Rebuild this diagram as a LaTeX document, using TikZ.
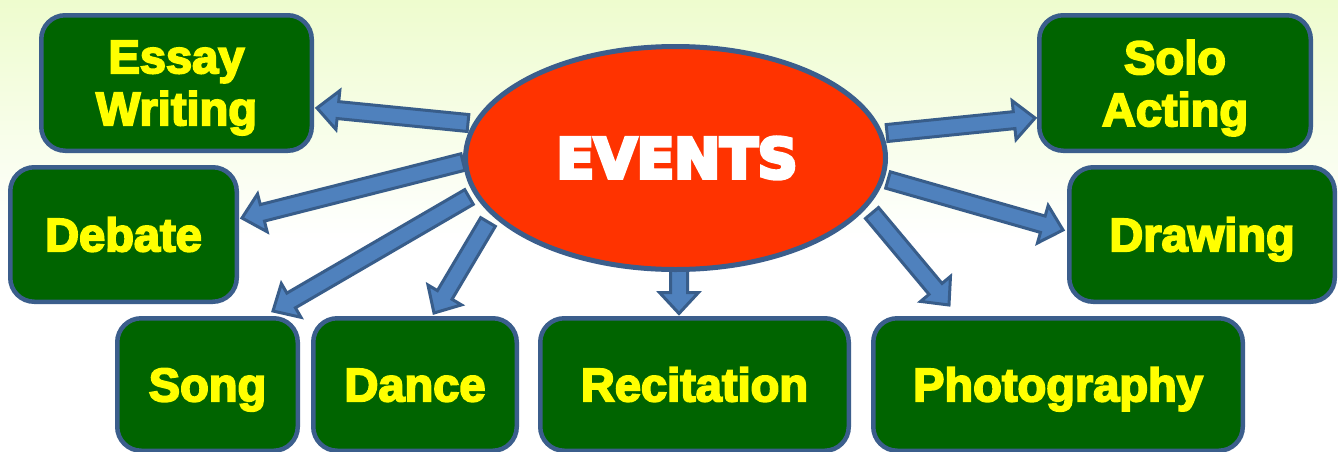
\documentclass[tikz,border=0pt]{standalone}
\usepackage{fontspec}
\setmainfont{Liberation Sans}[BoldFeatures={FakeBold=4}]
\newfontfamily\evfont{DejaVu Sans}[BoldFeatures={FakeBold=7}]
\usetikzlibrary{shapes.geometric,calc}
\definecolor{bgtop}{RGB}{238,252,206}
\definecolor{boxgreen}{RGB}{0,100,0}
\definecolor{edgeblue}{RGB}{59,94,140}
\definecolor{arrblue}{RGB}{79,129,189}
\definecolor{arredge}{RGB}{56,93,138}
\definecolor{evred}{RGB}{255,51,0}
\definecolor{lblyellow}{RGB}{255,255,0}
\pgfdeclarelayer{bg}
\pgfdeclarelayer{arr}
\pgfsetlayers{bg,arr,main}
\tikzset{
  evbox/.style={draw=edgeblue, line width=4.5pt, fill=boxgreen, rounded corners=24pt,
    inner sep=0pt, text=lblyellow, font=\bfseries\fontsize{47}{52}\selectfont, align=center},
  oneline/.style={text height=33.5pt, text depth=0pt},
  twoline/.style={text depth=0pt},
  blockarrow/.style={draw=arredge, fill=arrblue, line width=3pt, line join=miter},
  centre/.style={ellipse, draw=edgeblue, line width=5pt, fill=evred, minimum width=420pt,
    minimum height=223pt, inner sep=0pt, text=white,
    font=\evfont\bfseries\fontsize{55}{60}\selectfont, text height=40pt, text depth=0pt}
}
% block arrow from tail coordinate #1 to tip coordinate #2
\newcommand\barrow[2]{%
  \coordinate (bh) at ($(#2)!21pt!(#1)$);
  \draw[blockarrow] ($(#1)!8.5pt!90:(#2)$) -- ($(bh)!8.5pt!90:(#2)$) -- ($(bh)!19.5pt!90:(#2)$)
    -- (#2) -- ($(bh)!19.5pt!-90:(#2)$) -- ($(bh)!8.5pt!-90:(#2)$) -- ($(#1)!8.5pt!-90:(#2)$) -- cycle;
}
\begin{document}
\begin{tikzpicture}[x=1pt,y=1pt]
\useasboundingbox (0,0) rectangle (1338,-451);
\begin{pgfonlayer}{bg}
  \fill[white] (0,0) rectangle (1338,-451);
  \shade[top color=bgtop, bottom color=white] (0,0) rectangle (1338,-240);
\end{pgfonlayer}

% boxes
\node[evbox, twoline, minimum width=270.5pt, minimum height=135.5pt] (essay) at (176.5,-83) {Essay\\Writing};
\node[evbox, oneline, minimum width=226.5pt, minimum height=134.5pt] (debate) at (123.5,-234.5) {Debate};
\node[evbox, oneline, minimum width=180.5pt, minimum height=132.5pt] (song) at (207.5,-384.5) {Song};
\node[evbox, oneline, minimum width=203.5pt, minimum height=132.5pt] (dance) at (415,-384.5) {Dance};
\node[evbox, oneline, minimum width=308.5pt, minimum height=132.5pt] (recit) at (694.5,-384.5) {Recitation};
\node[evbox, oneline, minimum width=369.5pt, minimum height=132.5pt] (photo) at (1058,-384.5) {Photography};
\node[evbox, twoline, minimum width=271.5pt, minimum height=135.5pt] (solo) at (1175,-83) {Solo\\Acting};
\node[evbox, oneline, minimum width=265.5pt, minimum height=134.5pt] (drawing) at (1202,-234.5) {Drawing};

% centre
\node[centre] (ev) at (675.5,-158) {\hspace{3pt}EVENTS};

% arrow ends
\coordinate (t1) at ($(ev.center)+(-207.5,35)$);
\coordinate (p1) at ($(essay.east)+(3,-25)$);
\coordinate (t2) at ($(ev.center)+(-212.5,-4)$);
\coordinate (p2) at ($(debate.east)+(3,16.5)$);
\coordinate (t3) at ($(ev.center)+(-206.5,-39)$);
\coordinate (p3) at ($(song.north)+(65.5,5)$);
\coordinate (t4) at ($(ev.center)+(-187.5,-64)$);
\coordinate (p4) at ($(dance.north)+(19,3)$);
\coordinate (t5) at ($(ev.center)+(3.5,-106)$);
\coordinate (p5) at ($(recit.north)+(-15.5,2.5)$);
\coordinate (t6) at ($(ev.center)+(196.5,-55)$);
\coordinate (p6) at ($(photo.north)+(-109,11)$);
\coordinate (t7) at ($(ev.center)+(211.5,25)$);
\coordinate (p7) at ($(solo.west)+(-2,-35)$);
\coordinate (t8) at ($(ev.center)+(212.5,-22)$);
\coordinate (p8) at ($(drawing.west)+(-4,4.5)$);

\begin{pgfonlayer}{arr}
  \barrow{t1}{p1}
  \barrow{t2}{p2}
  \barrow{t3}{p3}
  \barrow{t4}{p4}
  \barrow{t5}{p5}
  \barrow{t6}{p6}
  \barrow{t7}{p7}
  \barrow{t8}{p8}
\end{pgfonlayer}
\end{tikzpicture}
\end{document}
